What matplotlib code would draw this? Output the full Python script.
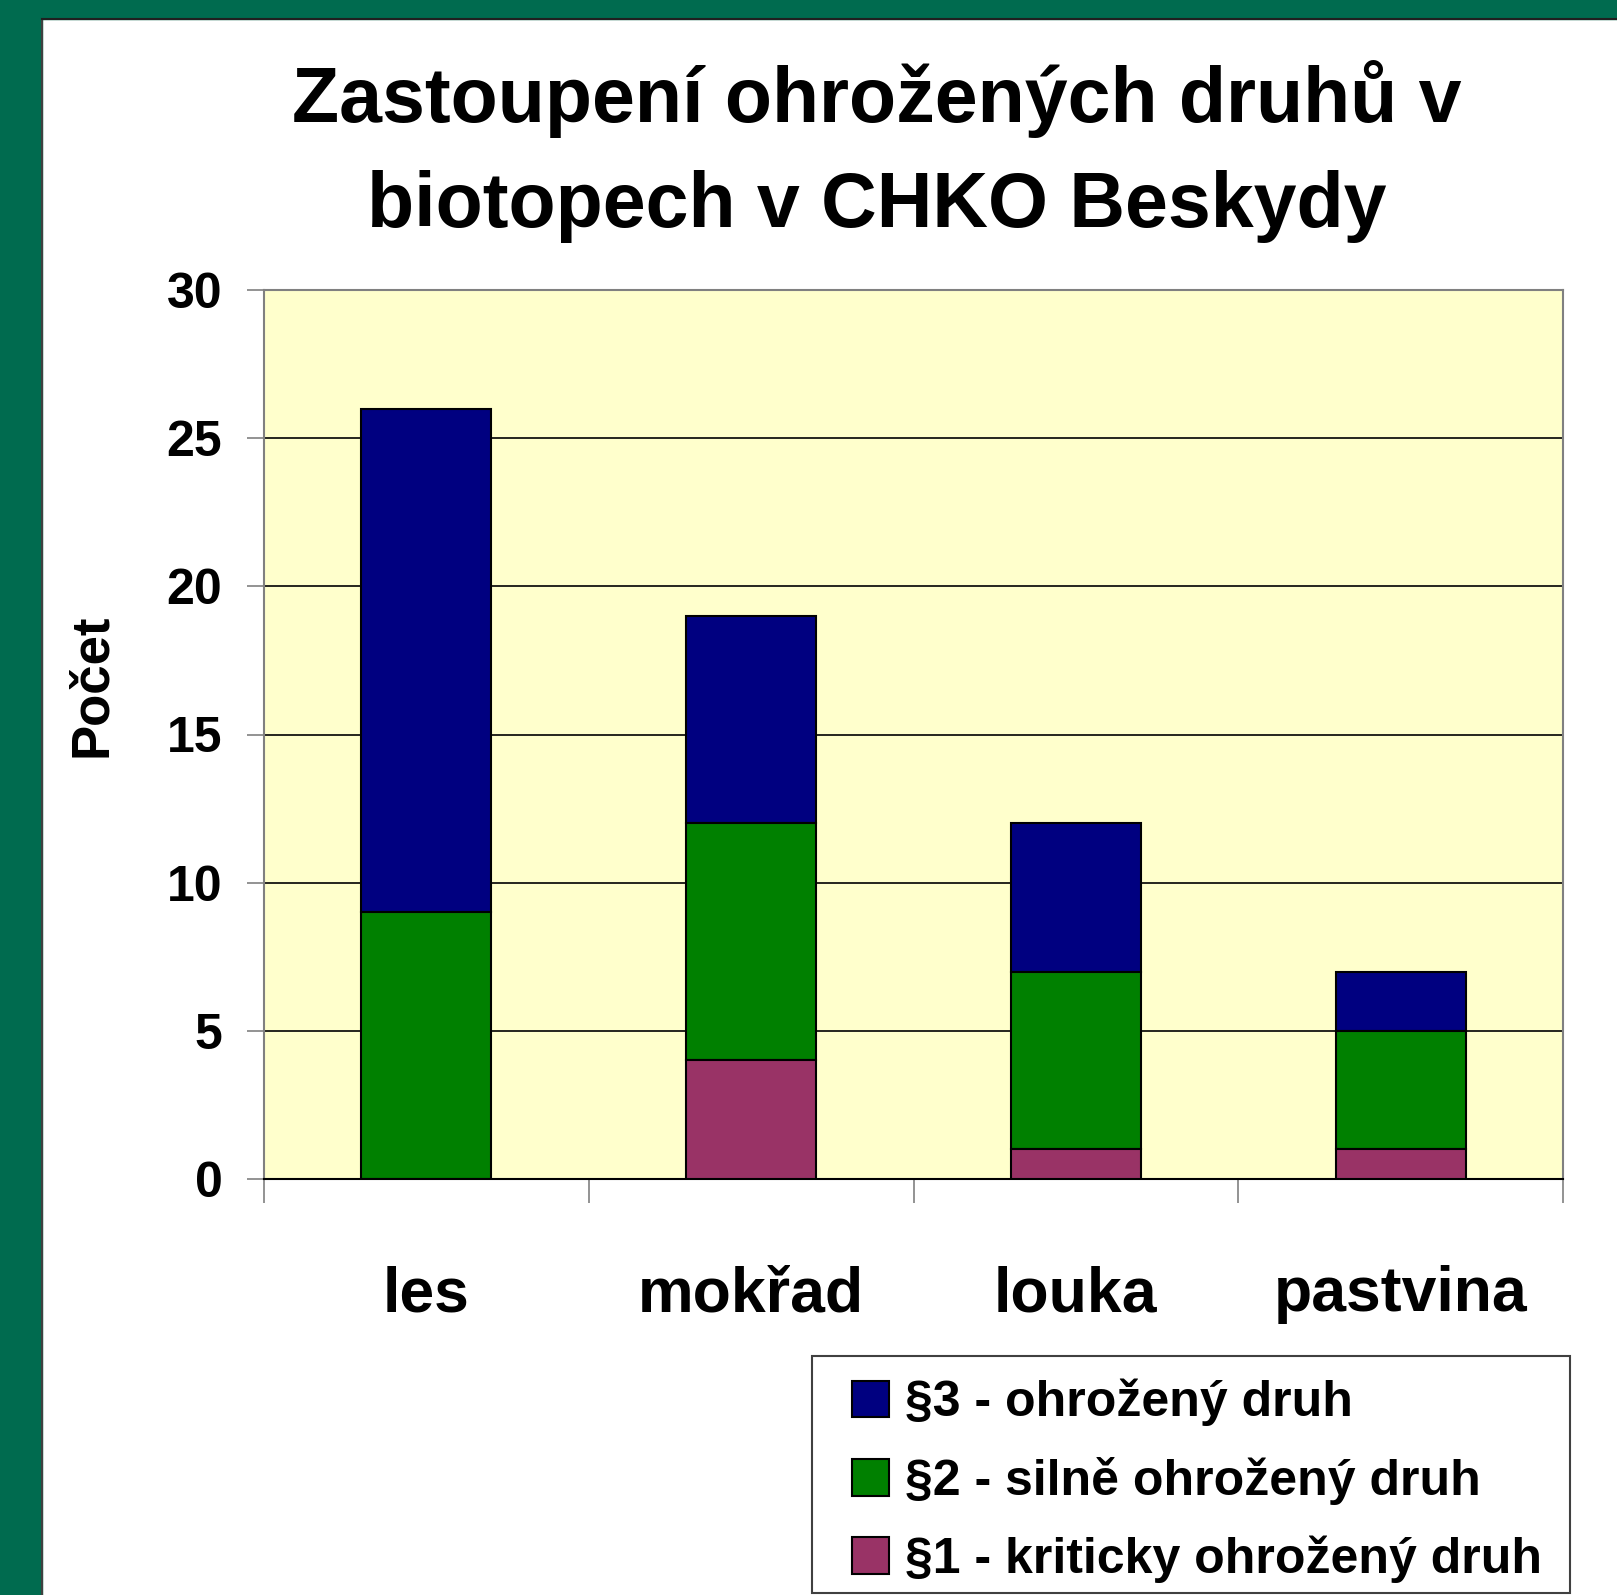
import numpy as np
import matplotlib.pyplot as plt
from matplotlib.patches import Rectangle
from matplotlib.lines import Line2D

# data
biotopy = ['les', 'mokřad', 'louka', 'pastvina']
par1 = [0, 4, 1, 1]    # §1 kriticky ohrožený
par2 = [9, 8, 6, 4]    # §2 silně ohrožený
par3 = [17, 7, 5, 2]   # §3 ohrožený
popisky = ['§3 - ohrožený druh', '§2 - silně ohrožený druh', '§1 - kriticky ohrožený druh']
barvy = ['#000080', '#008000', '#993366']
y_ticks = [0, 5, 10, 15, 20, 25, 30]

W, H = 1617, 1595
plt.rcParams['font.family'] = ['Liberation Sans', 'DejaVu Sans']
fig = plt.figure(figsize=(W / 100, H / 100), dpi=100, facecolor='white')

# zeleny ramecek
fig.patches.append(Rectangle((0, 0), 42 / W, 1, transform=fig.transFigure, color='#006B4F', zorder=0))
fig.patches.append(Rectangle((0, 1 - 19 / H), 1, 19 / H, transform=fig.transFigure, color='#006B4F', zorder=0))
fig.lines.append(Line2D([42 / W, 42 / W], [0, 1 - 19 / H], transform=fig.transFigure, color='#404040', lw=1.5))
fig.lines.append(Line2D([42 / W, 1], [1 - 19 / H, 1 - 19 / H], transform=fig.transFigure, color='#202020', lw=1.5))

ax = fig.add_axes([264 / W, 1 - 1179 / H, (1563 - 264) / W, (1179 - 290) / H])
ax.set_facecolor('#FFFFCC')

x = np.arange(len(biotopy))
p1 = np.array(par1)
p2 = np.array(par2)
p3 = np.array(par3)
w = 0.40
b3 = ax.bar(x, p3, w, bottom=p1 + p2, color=barvy[0], edgecolor='black', lw=1.5, zorder=3)
b2 = ax.bar(x, p2, w, bottom=p1, color=barvy[1], edgecolor='black', lw=1.5, zorder=3)
b1 = ax.bar(x, p1, w, color=barvy[2], edgecolor='black', lw=1.5, zorder=3)

ax.set_xlim(-0.5, len(biotopy) - 0.5)
ax.set_ylim(0, 30)
ax.set_yticks(y_ticks)
ax.set_yticklabels([str(t) for t in y_ticks], fontsize=36, fontweight='bold')
ax.yaxis.grid(True, color='black', lw=1.2, zorder=1)
ax.set_axisbelow(True)
ax.tick_params(axis='y', length=12, width=1.2, color='#808080', pad=18)

ax.set_xticks(x)
ax.set_xticklabels(biotopy, fontsize=45, fontweight='bold')
ax.set_xticks(np.arange(len(biotopy) + 1) - 0.5, minor=True)
ax.tick_params(axis='x', which='major', length=0, pad=62)
ax.tick_params(axis='x', which='minor', length=17, width=1.2, color='#808080')

for s in ['left', 'top', 'right']:
    ax.spines[s].set_color('#808080')
    ax.spines[s].set_linewidth(1.5)
ax.spines['bottom'].set_color('black')
ax.spines['bottom'].set_linewidth(1.5)

fig.text(92 / W, 1 - 685 / H, 'Počet', rotation=90, ha='center', va='center', fontsize=38, fontweight='bold')

fig.text(877 / W, 1 - 122 / H, 'Zastoupení ohrožených druhů v', ha='center', va='baseline', fontsize=55.5, fontweight='bold')
fig.text(877 / W, 1 - 227 / H, 'biotopech v CHKO Beskydy', ha='center', va='baseline', fontsize=55.5, fontweight='bold')

# legenda
fig.patches.append(Rectangle((812 / W, 1 - 1593 / H), (1570 - 812) / W, (1593 - 1356) / H,
                             transform=fig.transFigure, facecolor='white', edgecolor='#404040', lw=1.5, zorder=1))
leg = fig.legend([b3, b2, b1], popisky, loc='upper left', bbox_to_anchor=(852 / W, 1 - 1379 / H),
                 frameon=False, prop={'weight': 'bold', 'size': 36},
                 handlelength=0.74, handleheight=0.74, handletextpad=0.32, labelspacing=0.61,
                 borderpad=0, borderaxespad=0)

fig.savefig('out.png', dpi=100)
